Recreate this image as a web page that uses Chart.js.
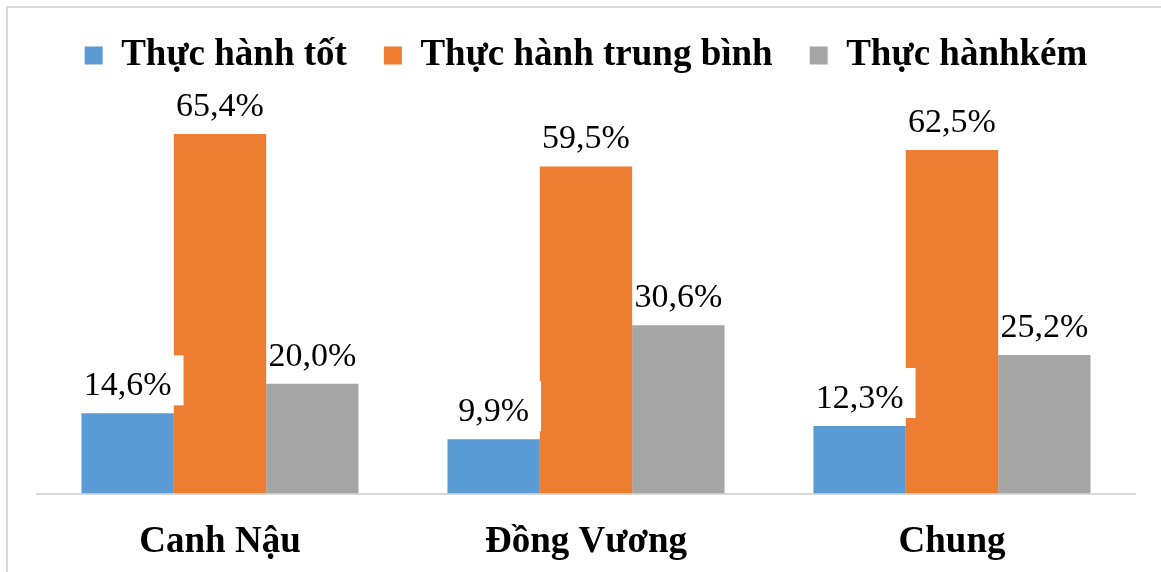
<!DOCTYPE html>
<html>
<head>
<meta charset="utf-8">
<script src="https://cdn.jsdelivr.net/npm/chart.js@4.4.1/dist/chart.umd.min.js"></script>
<style>
html, body { margin: 0; padding: 0; background: #fff; overflow: hidden; }
#frame { position: absolute; left: 6px; top: 6px; width: 1200px; height: 600px; border: 2px solid #d9d9d9; }
#wrap { position: absolute; left: 0; top: 0; width: 1161px; height: 572px; }
</style>
</head>
<body>
<div id="frame"></div>
<div id="wrap"><canvas id="chart"></canvas></div>
<script>
var places = ['Canh Nậu', 'Đồng Vương', 'Chung'];
var seriesNames = ['Thực hành tốt', 'Thực hành trung bình', 'Thực hànhkém'];
var good = [14.6, 9.9, 12.3];
var average = [65.4, 59.5, 62.5];
var poor = [20.0, 30.6, 25.2];
var colors = ['#5b9bd5', '#ed7d31', '#a5a5a5'];

// percent labels over each bar, comma as decimal mark
var valueLabels = {
	id: 'valueLabels',
	afterDatasetsDraw: function(chart, args, opts) {
		var ctx = chart.ctx;
		ctx.save();
		ctx.font = opts.font;
		ctx.textAlign = 'center';
		ctx.textBaseline = 'alphabetic';
		chart.data.datasets.forEach(function(ds, i) {
			var meta = chart.getDatasetMeta(i);
			meta.data.forEach(function(bar, j) {
				var text = ds.data[j].toFixed(1).replace('.', ',') + '%',
					w = ctx.measureText(text).width;
				if (opts.boxed.indexOf(i) >= 0) {
					ctx.fillStyle = '#fff';
					ctx.fillRect(bar.x - w / 2 - 12, bar.y - 58, w + 24, 50);
				}
				ctx.fillStyle = '#000';
				ctx.fillText(text, bar.x, bar.y - 18);
			});
		});
		ctx.restore();
	}
};

var boldFont = { family: '"Liberation Serif", "Times New Roman", serif', size: 37, weight: 'bold' };

new Chart(document.getElementById('chart').getContext('2d'), {
	type: 'bar',
	data: {
		labels: places,
		datasets: [good, average, poor].map(function(values, i) {
			return {
				label: seriesNames[i],
				data: values,
				backgroundColor: colors[i],
				borderWidth: 0,
				barPercentage: 1,
				categoryPercentage: 0.757
			};
		})
	},
	options: {
		responsive: true,
		maintainAspectRatio: false,
		animation: false,
		layout: { padding: { left: 37, right: 26, top: 0, bottom: -20 } },
		plugins: {
			legend: {
				position: 'top',
				labels: {
					boxWidth: 18,
					boxHeight: 18,
					padding: 37,
					color: '#000',
					font: boldFont
				}
			},
			tooltip: { enabled: false },
			valueLabels: { font: '34px "Liberation Serif", "Times New Roman", serif', boxed: [0] }
		},
		scales: {
			x: {
				grid: { display: false, drawTicks: false },
				border: { color: '#d9d9d9', width: 2 },
				ticks: { color: '#000', padding: 27, font: boldFont }
			},
			y: { display: false, min: 0, max: 74.5 }
		}
	},
	plugins: [valueLabels]
});
</script>
</body>
</html>
